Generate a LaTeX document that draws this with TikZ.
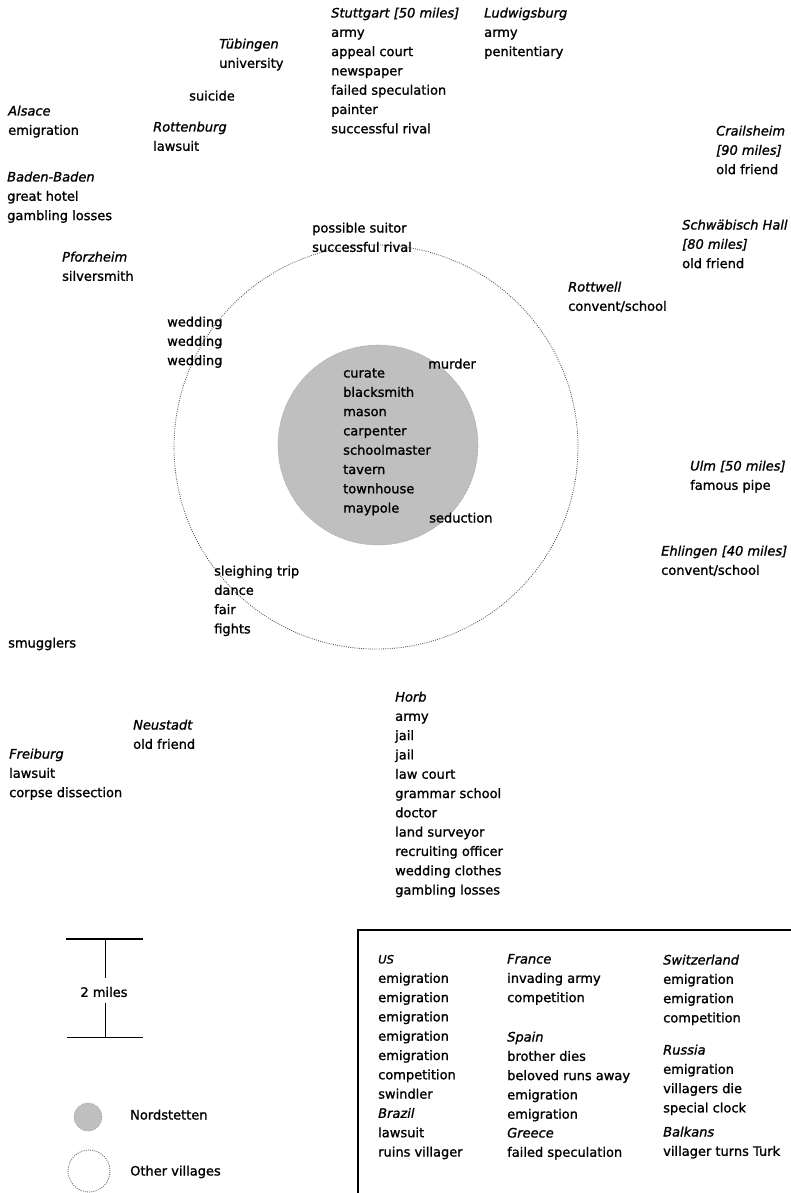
\documentclass[tikz,border=0pt]{standalone}
\usepackage{fontspec}
\setmainfont{DejaVu Sans}[FakeBold=1.2]
\newcommand{\mylines}[1]{\begin{tabular}[t]{@{}l@{}}#1\end{tabular}}
\begin{document}
\begin{tikzpicture}[x=1pt,y=-1pt,
  lbl/.style={anchor=base west, inner sep=0pt, font=\fontsize{13}{19.3}\selectfont},
  ring/.style={draw=black!70, line width=0.8pt, dash pattern=on 0.9pt off 1.3pt},
  stipple/.style={fill=black!25, draw=black!40, line width=0.6pt, dash pattern=on 0.6pt off 1pt},
  rule/.style={line width=1.2pt}]
\useasboundingbox (0,0) rectangle (791,1193);
\fill[white] (0,0) rectangle (791,1193);

% circles
\path[ring] (376,447) circle[radius=202pt];
\path[stipple] (378,445) circle[radius=100pt];

% top and surrounding places
\node[lbl] (stuttgart) at (331,17.5) {\mylines{\textit{Stuttgart [50 miles]}\\army\\appeal court\\newspaper\\failed speculation\\painter\\successful rival}};
\node[lbl] (ludwigsburg) at (484,17.5) {\mylines{\textit{Ludwigsburg}\\army\\penitentiary}};
\node[lbl] (tubingen) at (219,48.5) {\mylines{\textit{Tübingen}\\university}};
\node[lbl] (suicide) at (189,100.5) {suicide};
\node[lbl] (alsace) at (8,115.5) {\mylines{\textit{Alsace}\\emigration}};
\node[lbl] (rottenburg) at (153,131.5) {\mylines{\textit{Rottenburg}\\lawsuit}};
\node[lbl] (crailsheim) at (716,135.5) {\mylines{\textit{Crailsheim}\\\textit{[90 miles]}\\old friend}};
\node[lbl] (badenbaden) at (7,181.5) {\mylines{\textit{Baden-Baden}\\great hotel\\gambling losses}};
\node[lbl] (schwabisch) at (682,229.5) {\mylines{\textit{Schwäbisch Hall}\\\textit{[80 miles]}\\old friend}};
\node[lbl] (suitor) at (312,232.5) {\mylines{possible suitor\\successful rival}};
\node[lbl] (pforzheim) at (62,261.5) {\mylines{\textit{Pforzheim}\\silversmith}};
\node[lbl] (rottwell) at (568,291.5) {\mylines{\textit{Rottwell}\\convent/school}};
\node[lbl] (wedding) at (167,326.5) {\mylines{wedding\\wedding\\wedding}};
\node[lbl] (murder) at (428,368.5) {murder};
\node[lbl] (village) at (343,377.5) {\mylines{curate\\blacksmith\\mason\\carpenter\\schoolmaster\\tavern\\townhouse\\maypole}};
\node[lbl] (seduction) at (429,522.5) {seduction};
\node[lbl] (ulm) at (690,470.5) {\mylines{\textit{Ulm [50 miles]}\\famous pipe}};
\node[lbl] (ehlingen) at (661,555.5) {\mylines{\textit{Ehlingen [40 miles]}\\convent/school}};
\node[lbl] (sleigh) at (214,575.5) {\mylines{sleighing trip\\dance\\fair\\fights}};
\node[lbl] (smugglers) at (8,647.5) {smugglers};
\node[lbl] (horb) at (395,701.5) {\mylines{\textit{Horb}\\army\\jail\\jail\\law court\\grammar school\\doctor\\land surveyor\\recruiting officer\\wedding clothes\\gambling losses}};
\node[lbl] (neustadt) at (133,729.5) {\mylines{\textit{Neustadt}\\old friend}};
\node[lbl] (freiburg) at (9,758.5) {\mylines{\textit{Freiburg}\\lawsuit\\corpse dissection}};

% scale bar
\coordinate (sbtl) at (66,939);
\coordinate (sbtr) at (143,939);
\coordinate (sbbl) at (67,1037);
\coordinate (sbbr) at (143,1037);
\coordinate (sbv1) at (105,939);
\coordinate (sbv2) at (105,978);
\coordinate (sbv3) at (105,1003);
\coordinate (sbv4) at (105,1037);
\node[font=\fontsize{13}{15}\selectfont, inner sep=0pt] (twomiles) at (104,992) {2 miles};
\draw[line width=1.4pt] (sbtl) -- (sbtr);
\draw[line width=0.9pt] (sbbl) -- (sbbr);
\draw[line width=1pt] (sbv1) -- (sbv2);
\draw[line width=1pt] (sbv3) -- (sbv4);

% legend symbols
\path[stipple] (88,1117) circle[radius=14pt];
\path[ring] (89,1171) circle[radius=21pt];
\node[lbl] (nordstetten) at (130,1119.5) {Nordstetten};
\node[lbl] (others) at (130,1175.5) {Other villages};

% box of distant places
\draw[rule] (358,1193) -- (358,930) -- (791,930);
\node[lbl] (us) at (378,963.5) {\mylines{\textit{\fontsize{11.5}{19.3}\selectfont US}\\emigration\\emigration\\emigration\\emigration\\emigration\\competition\\swindler\\\textit{Brazil}\\lawsuit\\ruins villager}};
\node[lbl] (france) at (507,963.5) {\mylines{\textit{France}\\invading army\\competition}};
\node[lbl] (spain) at (507,1041.5) {\mylines{\textit{Spain}\\brother dies\\beloved runs away\\emigration\\emigration}};
\node[lbl] (greece) at (507,1137.5) {\mylines{\textit{Greece}\\failed speculation}};
\node[lbl] (switz) at (663,964.5) {\mylines{\textit{Switzerland}\\emigration\\emigration\\competition}};
\node[lbl] (russia) at (663,1054.5) {\mylines{\textit{Russia}\\emigration\\villagers die\\special clock}};
\node[lbl] (balkans) at (663,1136.5) {\mylines{\textit{Balkans}\\villager turns Turk}};
\end{tikzpicture}
\end{document}
